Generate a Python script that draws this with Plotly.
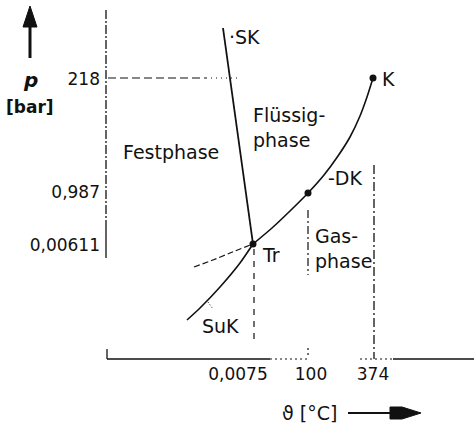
import plotly.graph_objects as go

# ---------------- data (schematic diagram units) ----------------
# x = position along the temperature axis, y = position along the pressure axis
p_tick_labels = ["218", "0,987", "0,00611"]
p_tick_pos = [280, 167, 114]
T_tick_labels = ["0,0075", "100", "374"]
T_tick_pos = [132, 205, 267]

point_names = ["Tr", "DK", "K"]
point_x = [147, 202, 267]
point_y = [115, 166, 281]

# vapour-pressure curve  Tr -> DK -> K
vap_x = [147, 166, 184, 202, 218, 232, 244, 254, 261, 267]
vap_y = [115, 131, 148, 166, 184, 203, 222, 243, 262, 281]
# melting curve  Tr -> SK
melt_x = [147, 117]
melt_y = [115, 331]
# sublimation curve  SuK -> Tr
sub_x = [81, 94, 114, 134, 147]
sub_y = [39, 51, 72, 96, 115]
# metastable (supercooled liquid) continuation
meta_x = [88, 107, 124, 147]
meta_y = [92, 99, 106, 115]

# ---------------- figure ----------------
W, H = 474, 426
ML, MB = 104, 64
XR = [-2, 368]
YR = [-3, 359]
INK = "#111111"
FONT = "DejaVu Sans"


def dx(px):
    return px - 106


def dy(py):
    return 359 - py


def pxp(px):
    return (px - ML) / (W - ML)


def pyp(py):
    return (H - MB - py) / (H - MB)


fig = go.Figure()


def line(xs, ys, width=1.5, dash="solid", shape="linear"):
    fig.add_trace(go.Scatter(
        x=xs, y=ys, mode="lines", hoverinfo="skip", showlegend=False,
        line=dict(color=INK, width=width, dash=dash, shape=shape, smoothing=0.7),
    ))


# axes drawn as schematic lines
line([0, 0], [dy(10), dy(226)], 1.3, "9px,2px,2px,2px")
line([0, 0], [dy(226), dy(258)], 1.3)
line([1, 1], [0, 10], 1.3)
line([1, dx(270)], [0, 0], 1.5)
line([dx(270), dx(308)], [0, 0], 1.2, "2px,3px")
line([dx(360), dx(393)], [0, 0], 1.2, "2px,3px")
line([dx(393), 368], [0, 0], 1.5)

# guide lines
line([2, 100], [point_y[2], point_y[2]], 1.2, "8px,4px")
line([100, point_x[0] - 16], [point_y[2], point_y[2]], 1.2, "1px,4px")
line([point_x[0] + 1, point_x[0] + 1], [point_y[0] - 5, 16], 1.2, "6px,6px")
line([point_x[1], point_x[1]], [point_y[1] - 17, dy(275)], 1.2, "8px,3px,2px,3px")
line([point_x[1], point_x[1]], [4, 14], 1.2, "2px,3px")
line([point_x[2] + 1, point_x[2] + 1], [dy(165), 0], 1.3, "9px,3px,2px,3px")
# leader from the "SuK" label to the sublimation curve
line([dx(208), dx(213)], [dy(302), dy(309)], 1.0, "1px,2px")

# phase boundary curves
line(meta_x, meta_y, 1.2, "6px,3px", "spline")
line(sub_x, sub_y, 1.6, "solid", "spline")
line(melt_x, melt_y, 1.8)
line(vap_x, vap_y, 1.6, "solid", "spline")

# characteristic points
fig.add_trace(go.Scatter(
    x=point_x, y=point_y, mode="markers", hoverinfo="skip", showlegend=False,
    marker=dict(color=INK, size=7),
))


# ---------------- text ----------------
def label(text, px, py, size=19, xanchor="left", align="left"):
    fig.add_annotation(
        x=pxp(px), y=pyp(py), xref="paper", yref="paper", text=text, showarrow=False,
        xanchor=xanchor, yanchor="middle", align=align,
        font=dict(family=FONT, size=size, color=INK),
    )


label("·SK", 227, 37)
label("K", 380, 79)
label("-DK", 326, 178)
label("Tr", 260, 255)
label("SuK", 200, 326)
label("Festphase", 121, 152)
label("Flüssig-<br>phase", 251, 127)
label("Gas-<br>phase", 313, 248)
label("ϑ [°C]", 309, 413, xanchor="center")
label("<b><i>p</i></b>", 30, 80, size=20, xanchor="center")
label("<b>[bar]</b>", 30, 107, size=17, xanchor="center")

# arrows
fig.add_shape(type="line", xref="paper", yref="paper",
              x0=pxp(30), y0=pyp(58), x1=pxp(30), y1=pyp(22),
              line=dict(color=INK, width=3))
fig.add_shape(type="path", xref="paper", yref="paper",
              path=f"M {pxp(23)},{pyp(27)} L {pxp(37)},{pyp(27)} L {pxp(30)},{pyp(6)} Z",
              fillcolor=INK, line=dict(color=INK, width=1))
fig.add_shape(type="line", xref="paper", yref="paper",
              x0=pxp(348), y0=pyp(413), x1=pxp(395), y1=pyp(413),
              line=dict(color=INK, width=2))
fig.add_shape(type="path", xref="paper", yref="paper",
              path=(f"M {pxp(390)},{pyp(407)} L {pxp(402)},{pyp(407)} L {pxp(421)},{pyp(413)} "
                    f"L {pxp(402)},{pyp(419)} L {pxp(390)},{pyp(419)} Z"),
              fillcolor=INK, line=dict(color=INK, width=1))

fig.update_layout(
    template="none",
    width=W, height=H,
    margin=dict(l=ML, r=0, t=0, b=MB, pad=0, autoexpand=False),
    paper_bgcolor="white", plot_bgcolor="white",
    showlegend=False,
    xaxis=dict(range=XR, showgrid=False, zeroline=False, showline=False, automargin=False,
               tickmode="array", tickvals=T_tick_pos, ticktext=T_tick_labels,
               ticks="", tickfont=dict(family=FONT, size=17, color=INK), fixedrange=True),
    yaxis=dict(range=YR, showgrid=False, zeroline=False, showline=False, automargin=False,
               tickmode="array", tickvals=p_tick_pos, ticktext=p_tick_labels,
               ticks="", ticklabelstandoff=3,
               tickfont=dict(family=FONT, size=17, color=INK), fixedrange=True),
)

fig.write_html(
    "out.html",
    config={"displayModeBar": False, "staticPlot": True},
    post_script="document.body.style.margin='0px'; document.body.style.overflow='hidden';",
)
